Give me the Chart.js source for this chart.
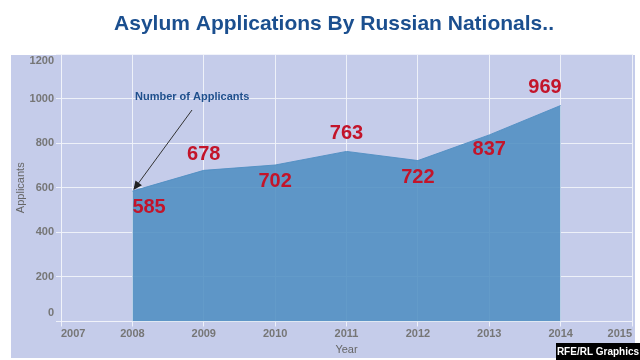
<!DOCTYPE html>
<html>
<head>
<meta charset="utf-8">
<script src="https://cdn.jsdelivr.net/npm/chart.js@4/dist/chart.umd.min.js"></script>
<style>
  html, body { margin: 0; padding: 0; background: #fff; }
  #chart { display: block; }
</style>
</head>
<body>
<canvas id="chart" width="640" height="360"></canvas>
<script>
// data
const years = [2008, 2009, 2010, 2011, 2012, 2013, 2014];
const applicants = [585, 678, 702, 763, 722, 837, 969];
const yTicks = [0, 200, 400, 600, 800, 1000, 1200];
const xRange = [2007, 2015];

const titleText = 'Asylum Applications By Russian Nationals..';
const noteText = 'Number of Applicants';
const creditText = 'RFE/RL Graphics';

const panelColor = 'rgb(197,204,234)';
const gridColor = 'rgba(240,242,250,0.95)';
const labelRed = '#c3142a';
const tickColor = '#767676';

// panel, title, credit box
const backdropPlugin = {
  id: 'backdrop',
  beforeDraw(chart) {
    const ctx = chart.ctx;
    ctx.save();
    ctx.fillStyle = '#fff';
    ctx.fillRect(0, 0, chart.width, chart.height);
    ctx.fillStyle = panelColor;
    ctx.fillRect(11, 55, 624, 303);

    ctx.fillStyle = '#1b4f8f';
    ctx.font = 'bold 21px Arial, "Liberation Sans", sans-serif';
    ctx.textAlign = 'center';
    ctx.textBaseline = 'middle';
    ctx.fillText(titleText, 334, 24);
    ctx.restore();
  },
  afterDraw(chart) {
    const ctx = chart.ctx;
    ctx.save();
    ctx.fillStyle = '#000';
    ctx.fillRect(556, 343, 84, 17);
    ctx.fillStyle = '#fff';
    ctx.font = 'bold 10px Arial, "Liberation Sans", sans-serif';
    ctx.textAlign = 'center';
    ctx.textBaseline = 'middle';
    ctx.fillText(creditText, 598, 352);
    ctx.restore();
  }
};

// y tick labels, pulled inward at the ends like the original
const yLabelPlugin = {
  id: 'yLabels',
  afterDraw(chart) {
    const ctx = chart.ctx;
    const ys = chart.scales.y;
    const area = chart.chartArea;
    ctx.save();
    ctx.font = 'bold 11px Arial, "Liberation Sans", sans-serif';
    ctx.fillStyle = tickColor;
    ctx.textAlign = 'right';
    ctx.textBaseline = 'middle';
    yTicks.forEach(v => {
      let y = ys.getPixelForValue(v);
      y = Math.min(Math.max(y, area.top + 6.5), area.bottom - 8.5);
      ctx.fillText(String(v), area.left - 7, y);
    });
    ctx.restore();
  }
};

// value labels and the arrow note
const valueLabelPlugin = {
  id: 'valueLabels',
  afterDatasetsDraw(chart) {
    const ctx = chart.ctx;
    const meta = chart.getDatasetMeta(0);
    // dy offset and alignment for each label
    const place = [
      [16, 'left'], [-16, 'center'], [16, 'center'], [-18, 'center'],
      [17, 'center'], [15, 'center'], [-18, 'right']
    ];
    ctx.save();
    ctx.font = 'bold 20px Arial, "Liberation Sans", sans-serif';
    ctx.fillStyle = labelRed;
    ctx.textBaseline = 'middle';
    meta.data.forEach((pt, i) => {
      const p = place[i] || [-16, 'center'];
      ctx.textAlign = p[1];
      const x = p[1] === 'right' ? pt.x + 1 : pt.x;
      ctx.fillText(String(applicants[i]), x, pt.y + p[0]);
    });

    // annotation pointing at the first point
    const first = meta.data[0];
    ctx.fillStyle = '#1f4f8c';
    ctx.font = 'bold 11px Arial, "Liberation Sans", sans-serif';
    ctx.textAlign = 'left';
    ctx.fillText(noteText, 135, 97);

    const x0 = 192, y0 = 110;
    const x1 = first.x + 1, y1 = first.y - 1;
    const ang = Math.atan2(y1 - y0, x1 - x0);
    ctx.strokeStyle = '#333';
    ctx.lineWidth = 1;
    ctx.beginPath();
    ctx.moveTo(x0, y0);
    ctx.lineTo(x1 - 6 * Math.cos(ang), y1 - 6 * Math.sin(ang));
    ctx.stroke();
    ctx.fillStyle = '#222';
    ctx.beginPath();
    ctx.moveTo(x1, y1);
    ctx.lineTo(x1 - 9 * Math.cos(ang) + 4 * Math.sin(ang), y1 - 9 * Math.sin(ang) - 4 * Math.cos(ang));
    ctx.lineTo(x1 - 9 * Math.cos(ang) - 4 * Math.sin(ang), y1 - 9 * Math.sin(ang) + 4 * Math.cos(ang));
    ctx.closePath();
    ctx.fill();
    ctx.restore();
  }
};

const tickFont = { family: 'Arial, "Liberation Sans", sans-serif', size: 11, weight: 'bold' };
const titleFont = { family: 'Arial, "Liberation Sans", sans-serif', size: 11 };

new Chart(document.getElementById('chart'), {
  type: 'line',
  data: {
    datasets: [{
      data: years.map((y, i) => ({ x: y, y: applicants[i] })),
      fill: 'origin',
      backgroundColor: 'rgba(80,142,194,0.88)',
      borderColor: 'rgba(80,142,194,0.9)',
      borderWidth: 1,
      pointRadius: 0,
      tension: 0
    }]
  },
  options: {
    responsive: false,
    animation: false,
    layout: { padding: { left: 11, right: 8, top: 54, bottom: 0 } },
    scales: {
      x: {
        type: 'linear',
        min: xRange[0],
        max: xRange[1],
        afterFit: s => { s.height = 38.5; },
        ticks: {
          stepSize: 1,
          align: 'inner',
          padding: 1,
          color: tickColor,
          font: tickFont,
          callback: v => String(v)
        },
        grid: { color: gridColor, tickLength: 5 },
        border: { color: gridColor },
        title: {
          display: true,
          text: 'Year',
          color: '#666',
          font: titleFont,
          padding: { top: 0, bottom: 3 }
        }
      },
      y: {
        min: 0,
        max: 1200,
        afterFit: s => { s.width = 50; },
        afterBuildTicks: s => { s.ticks = yTicks.map(v => ({ value: v })); },
        ticks: { display: false },
        grid: { color: gridColor, tickLength: 5 },
        border: { color: gridColor },
        title: {
          display: true,
          text: 'Applicants',
          color: '#666',
          font: titleFont,
          padding: { top: 3, bottom: 0 }
        }
      }
    },
    plugins: {
      legend: { display: false },
      tooltip: { enabled: false }
    }
  },
  plugins: [backdropPlugin, yLabelPlugin, valueLabelPlugin]
});
</script>
</body>
</html>
